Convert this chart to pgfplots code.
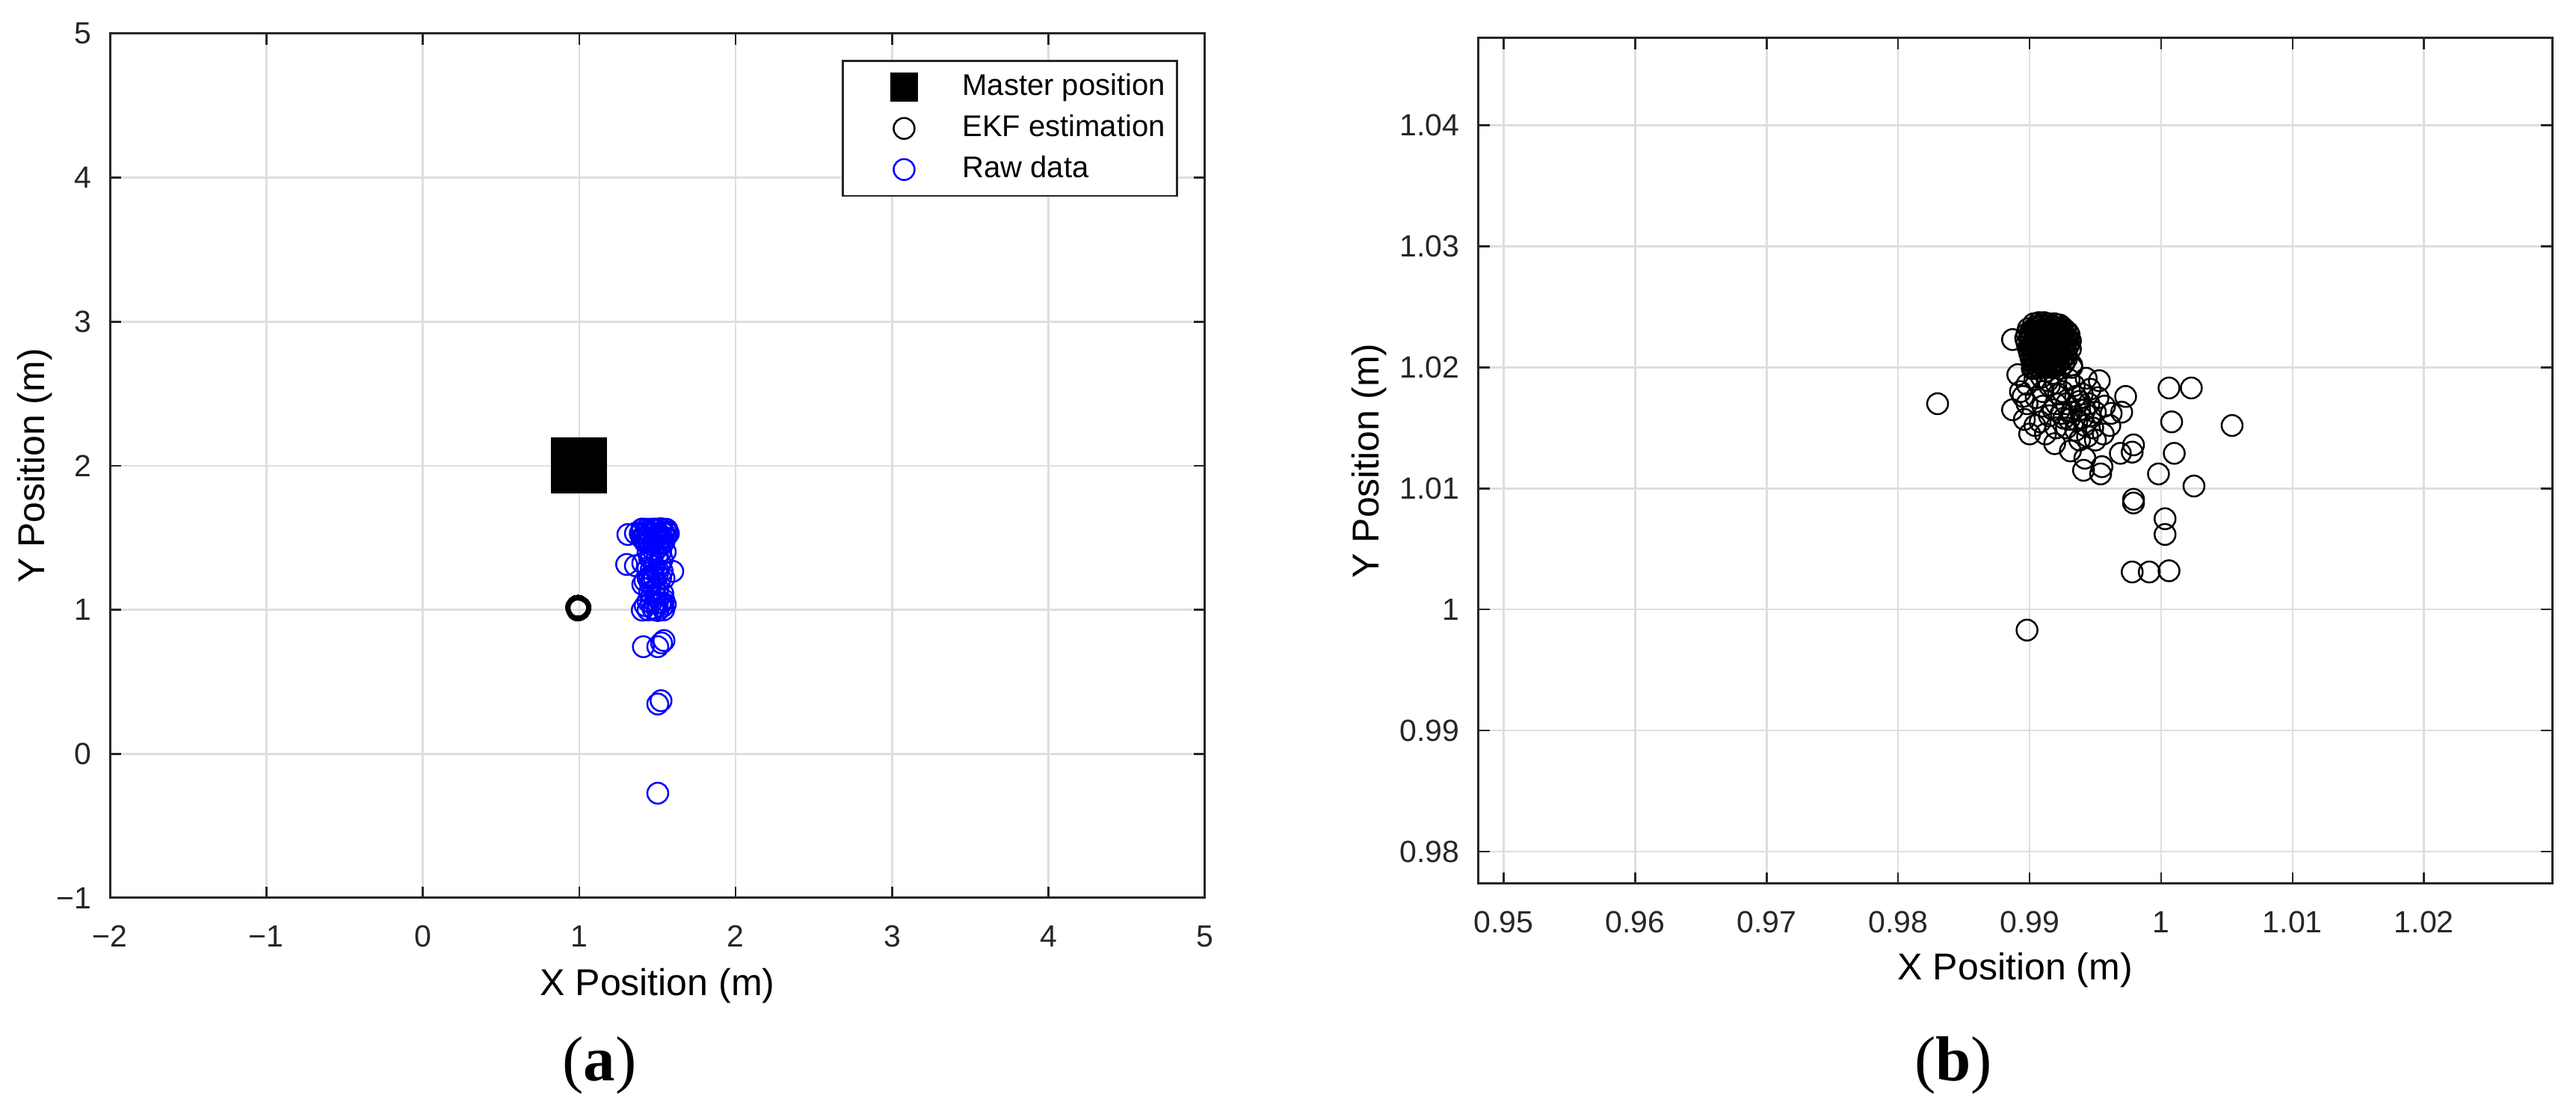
\documentclass[border=0pt]{standalone}
\usepackage{fontspec}
\setmainfont{Liberation Sans}
\newfontfamily\serifft{Liberation Serif}
\usepackage{pgfplots}
\pgfplotsset{compat=1.18}
\usepackage{pgfplotstable}
\definecolor{axcol}{RGB}{38,38,38}
\definecolor{gridcol}{RGB}{222,222,222}
\definecolor{rawblue}{RGB}{0,0,255}

\pgfplotstableread{
x y
1.0 2.0
}\master

\pgfplotstableread{
x y
0.9903 1.0236
0.9907 1.0237
0.9911 1.0237
0.9915 1.0236
0.9919 1.0236
0.9923 1.0235
0.9899 1.0232
0.9903 1.0232
0.9907 1.0233
0.9911 1.0232
0.9915 1.0232
0.9919 1.0233
0.9923 1.0232
0.9927 1.0231
0.9898 1.0228
0.9902 1.0228
0.9906 1.0229
0.9910 1.0228
0.9914 1.0228
0.9918 1.0229
0.9922 1.0228
0.9926 1.0228
0.9930 1.0227
0.9897 1.0224
0.9901 1.0224
0.9905 1.0225
0.9909 1.0224
0.9913 1.0224
0.9917 1.0225
0.9921 1.0224
0.9925 1.0224
0.9929 1.0223
0.9931 1.0222
0.9898 1.0220
0.9902 1.0220
0.9906 1.0221
0.9910 1.0220
0.9914 1.0220
0.9918 1.0221
0.9922 1.0220
0.9926 1.0220
0.9930 1.0219
0.9899 1.0216
0.9903 1.0216
0.9907 1.0217
0.9911 1.0216
0.9915 1.0216
0.9919 1.0217
0.9923 1.0216
0.9927 1.0216
0.9931 1.0215
0.9900 1.0212
0.9904 1.0212
0.9908 1.0213
0.9912 1.0212
0.9916 1.0212
0.9920 1.0213
0.9924 1.0212
0.9928 1.0211
0.9901 1.0208
0.9905 1.0208
0.9909 1.0209
0.9913 1.0208
0.9917 1.0208
0.9921 1.0209
0.9925 1.0208
0.9928 1.0207
0.9902 1.0204
0.9906 1.0204
0.9910 1.0205
0.9914 1.0204
0.9918 1.0204
0.9922 1.0205
0.9926 1.0203
0.9903 1.0200
0.9907 1.0200
0.9911 1.0201
0.9915 1.0200
0.9919 1.0200
0.9923 1.0199
0.9905 1.0234
0.9909 1.0235
0.9913 1.0234
0.9917 1.0234
0.9921 1.0233
0.9925 1.0233
0.9901 1.0230
0.9905 1.0230
0.9909 1.0231
0.9913 1.0230
0.9917 1.0230
0.9921 1.0230
0.9925 1.0229
0.9929 1.0229
0.9900 1.0226
0.9904 1.0226
0.9908 1.0227
0.9912 1.0226
0.9916 1.0226
0.9920 1.0226
0.9924 1.0226
0.9928 1.0225
0.9900 1.0222
0.9904 1.0222
0.9908 1.0222
0.9912 1.0223
0.9916 1.0222
0.9920 1.0222
0.9924 1.0222
0.9928 1.0221
0.9901 1.0218
0.9905 1.0218
0.9909 1.0219
0.9913 1.0218
0.9917 1.0218
0.9921 1.0218
0.9925 1.0218
0.9929 1.0217
0.9902 1.0214
0.9906 1.0214
0.9910 1.0215
0.9914 1.0214
0.9918 1.0214
0.9922 1.0214
0.9926 1.0214
0.9903 1.0210
0.9907 1.0210
0.9911 1.0211
0.9915 1.0210
0.9919 1.0210
0.9923 1.0210
0.9927 1.0209
0.9904 1.0206
0.9908 1.0206
0.9912 1.0207
0.9916 1.0206
0.9920 1.0206
0.9924 1.0206
0.9905 1.0202
0.9909 1.0202
0.9913 1.0203
0.9917 1.0202
0.9921 1.0202
0.9902 1.0199
0.9913 1.0197
0.9918 1.0195
0.9909 1.0192
0.9904 1.0190
0.9914 1.0189
0.9920 1.0187
0.9898 1.0186
0.9895 1.0176
0.9887 1.0223
0.9891 1.0194
0.9887 1.0165
0.9896 1.0157
0.9900 1.0145
0.9904 1.0152
0.9893 1.0180
0.9898 1.0170
0.9905 1.0175
0.9910 1.0168
0.9915 1.0160
0.9920 1.0170
0.9925 1.0180
0.9930 1.0190
0.9932 1.0200
0.9935 1.0176
0.9938 1.0165
0.9940 1.0158
0.9932 1.0163
0.9928 1.0150
0.9935 1.0148
0.9942 1.0152
0.9938 1.0140
0.9919 1.0137
0.9931 1.0131
0.9942 1.0125
0.9941 1.0115
0.9955 1.0118
0.9954 1.0112
0.9943 1.0191
0.9932 1.0202
0.9946 1.0182
0.9953 1.0189
0.9962 1.0162
0.9961 1.0152
0.9970 1.0163
0.9973 1.0176
0.9979 1.0136
0.9969 1.0129
0.9978 1.0130
0.9979 1.0091
0.9979 1.0088
0.9978 1.0031
0.9991 1.0031
1.0006 1.0032
1.0003 1.0075
1.0003 1.0062
0.9998 1.0112
1.0025 1.0102
1.0010 1.0129
1.0008 1.0155
1.0054 1.0152
1.0006 1.0183
1.0023 1.0183
0.9830 1.0170
0.9898 0.9983
0.9915 1.0185
0.9922 1.0178
0.9928 1.0170
0.9934 1.0185
0.9940 1.0178
0.9945 1.0170
0.9950 1.0163
0.9948 1.0150
0.9944 1.0143
0.9950 1.0140
0.9956 1.0145
0.9926 1.0158
0.9920 1.0150
0.9912 1.0145
0.9908 1.0155
0.9936 1.0156
0.9946 1.0160
0.9952 1.0175
0.9957 1.0168
0.9910 1.0180
0.9918 1.0165
0.9924 1.0162
0.9930 1.0157
0.9942 1.0165
0.9938 1.0172
}\ekf

\pgfplotstableread{
x y
1.502 -0.273
1.502 0.346
1.523 0.369
1.410 0.744
1.502 0.744
1.526 0.770
1.542 0.787
1.403 0.998
1.422 1.029
1.502 0.995
1.550 1.038
1.470 1.010
1.486 1.045
1.530 1.020
1.520 1.050
1.440 1.000
1.480 1.000
1.540 1.000
1.460 1.050
1.500 1.050
1.530 1.050
1.450 1.120
1.500 1.120
1.406 1.176
1.470 1.202
1.542 1.219
1.598 1.267
1.550 1.402
1.303 1.315
1.359 1.306
1.406 1.324
1.311 1.523
1.359 1.531
1.406 1.560
1.454 1.185
1.502 1.150
1.486 1.098
1.534 1.115
1.440 1.220
1.480 1.220
1.520 1.220
1.460 1.280
1.500 1.280
1.440 1.290
1.480 1.300
1.520 1.320
1.450 1.360
1.500 1.380
1.530 1.350
1.460 1.350
1.440 1.400
1.480 1.400
1.520 1.400
1.470 1.420
1.510 1.440
1.540 1.470
1.420 1.480
1.460 1.500
1.500 1.520
1.540 1.540
1.440 1.550
1.480 1.560
1.520 1.563
1.560 1.558
1.565 1.540
1.450 1.530
1.490 1.510
1.530 1.500
1.410 1.500
1.470 1.470
1.400 1.560
1.430 1.560
1.460 1.560
1.490 1.560
1.520 1.560
1.550 1.560
1.390 1.530
1.420 1.530
1.450 1.530
1.480 1.530
1.510 1.530
1.540 1.530
1.570 1.530
1.400 1.500
1.430 1.500
1.460 1.500
1.490 1.500
1.520 1.500
1.550 1.500
1.420 1.470
1.450 1.470
1.480 1.470
1.510 1.470
1.540 1.470
1.500 1.250
1.450 1.230
1.530 1.270
1.480 1.140
1.440 1.060
1.540 1.070
1.420 1.200
}\raw

\pgfplotsset{
  mystyle/.style={
    scale only axis,
    axis line style={axcol, line width=0.6pt},
    every tick/.style={axcol, line width=0.5pt},
    major tick length=3pt,
    tick align=inside,
    xtick pos=both, ytick pos=both,
    grid=major,
    major grid style={gridcol, line width=0.5pt},
    tick label style={font=\fontsize{8.2}{9}\selectfont, text=axcol},
    xticklabel style={yshift=-3.9pt},
    yticklabel style={xshift=-1.5pt},
    label style={font=\fontsize{9.6}{11}\selectfont, text=axcol},
    every axis x label/.style={at={(axis description cs:0.5,-0.102)}, anchor=center},
    /pgf/number format/assume math mode=true,
  },
  ekfstyle/.style={only marks, mark=o, mark size=2.8pt, line width=0.5pt, black},
  legimg/.style={legend image code/.code={\path[draw=none,fill=none] (-13.2pt,-3pt) rectangle (4pt,3pt); \draw[##1] plot coordinates {(0pt,0pt)};}},
}

\begin{document}
\begin{tikzpicture}
\useasboundingbox (0,0) rectangle (689.2pt,297.2pt);

\begin{axis}[mystyle,
  at={(29.4pt,57pt)}, anchor=south west,
  width=293pt, height=231.2pt,
  xmin=-2, xmax=5, ymin=-1, ymax=5,
  xtick={-2,-1,0,1,2,3,4,5},
  xticklabels={−2,−1,0,1,2,3,4,5},
  ytick={-1,0,1,2,3,4,5},
  yticklabels={−1,0,1,2,3,4,5},
  xlabel={X Position (m)},
  ylabel={Y Position (m)},
  every axis y label/.style={at={(axis description cs:-0.0683,0.5)}, rotate=90, anchor=center},
  legend style={at={(rel axis cs:0.9754,0.9697)}, anchor=north east,
    draw=axcol, line width=0.5pt, fill=white,
    font=\fontsize{8}{9}\selectfont,
    inner xsep=3.2pt, inner ysep=3.2pt,
    row sep=3.4pt, column sep=11.6pt,
    nodes={inner sep=0pt, text height=5.9pt, text depth=1.7pt},
    cells={anchor=west}},
]
\addplot[only marks, mark=square*, mark size=7.3pt, black,
  legend image code/.code={\path[draw=none,fill=none] (-13.2pt,-3pt) rectangle (4pt,3pt); \fill[black] (-3.5pt,-3.6pt) rectangle (3.5pt,3.6pt);}]
  table[x=x,y=y] {\master};
\addlegendentry{Master position}
\addplot[ekfstyle, legimg] table[x=x,y=y] {\ekf};
\addlegendentry{EKF estimation}
\addplot[only marks, mark=o, mark size=2.8pt, line width=0.5pt, rawblue, legimg] table[x=x,y=y] {\raw};
\addlegendentry{Raw data}
\end{axis}

\begin{axis}[mystyle,
  at={(395.5pt,60.8pt)}, anchor=south west,
  width=287.3pt, height=226.2pt,
  xmin=0.94806, xmax=1.02974, ymin=0.97735, ymax=1.0472,
  xtick={0.95,0.96,0.97,0.98,0.99,1.0,1.01,1.02},
  xticklabels={0.95,0.96,0.97,0.98,0.99,1,1.01,1.02},
  ytick={0.98,0.99,1.0,1.01,1.02,1.03,1.04},
  yticklabels={0.98,0.99,1,1.01,1.02,1.03,1.04},
  xlabel={X Position (m)},
  ylabel={Y Position (m)},
  every axis y label/.style={at={(axis description cs:-0.1013,0.5)}, rotate=90, anchor=center},
]
\addplot[ekfstyle] table[x=x,y=y] {\ekf};
\end{axis}

\node[font=\serifft\fontsize{17}{20}\selectfont, anchor=center] at (160.4pt,12.2pt) {(\textbf{a})};
\node[font=\serifft\fontsize{17}{20}\selectfont, anchor=center] at (522.6pt,12.2pt) {(\textbf{b})};
\end{tikzpicture}
\end{document}
